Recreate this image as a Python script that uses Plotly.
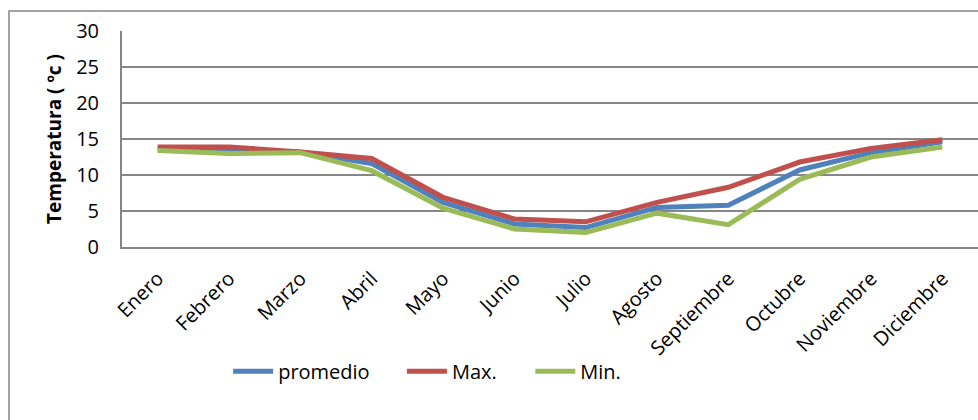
import plotly.graph_objects as go

meses = ["Enero", "Febrero", "Marzo", "Abril", "Mayo", "Junio", "Julio",
         "Agosto", "Septiembre", "Octubre", "Noviembre", "Diciembre"]
promedio = [13.6, 13.4, 13.2, 11.6, 6.2, 3.2, 2.7, 5.5, 5.8, 10.7, 13.1, 14.6]
maximo = [13.9, 13.9, 13.2, 12.3, 6.9, 3.9, 3.5, 6.2, 8.3, 11.8, 13.7, 14.9]
minimo = [13.4, 13.0, 13.1, 10.6, 5.4, 2.5, 2.0, 4.7, 3.1, 9.4, 12.5, 13.9]
y_ticks = [0, 5, 10, 15, 20, 25, 30]

FONT = "'Open Sans', sans-serif"

fig = go.Figure()
series = [("promedio", promedio, "#4F81BD", "legend"),
          ("Max.", maximo, "#C0504D", "legend2"),
          ("Min.", minimo, "#9BBB59", "legend3")]
for name, vals, col, lg in series:
    fig.add_trace(go.Scatter(x=meses, y=vals, name=name, mode="lines",
                             line=dict(color=col, width=5), legend=lg))

def leg(x):
    return dict(orientation="h", x=x, y=-0.575, xanchor="left", yanchor="middle",
                font=dict(size=20, family=FONT), itemwidth=40,
                bgcolor="rgba(0,0,0,0)")

fig.update_layout(
    width=978, height=420,
    margin=dict(l=122, r=0, t=31, b=173),
    paper_bgcolor="white", plot_bgcolor="white",
    font=dict(family=FONT, size=18, color="#000"),
    showlegend=True,
    legend=leg(0.124),
    legend2=leg(0.327),
    legend3=leg(0.477),
    xaxis=dict(type="category", tickangle=-45, showgrid=False,
               showline=True, linecolor="#868686", linewidth=2,
               ticks="outside", ticklen=10, tickcolor="rgba(0,0,0,0)",
               tickfont=dict(size=20), range=[-0.5, 11.5]),
    yaxis=dict(range=[0, 30], tickvals=y_ticks, showgrid=True,
               gridcolor="#868686", gridwidth=2, zeroline=False,
               showline=True, linecolor="#868686", linewidth=2,
               ticks="", ticklabelstandoff=17, tickfont=dict(size=20),
               title=dict(text="<b>Temperatura ( ºc )</b>", font=dict(size=19),
                          standoff=9)),
    shapes=[dict(type="rect", xref="paper", yref="paper",
                 x0=-0.132, x1=1.2, y0=-1.0, y1=1.0926,
                 line=dict(color="#868686", width=1.5), fillcolor="rgba(0,0,0,0)",
                 layer="below")],
)

fig.write_html("out.html")
